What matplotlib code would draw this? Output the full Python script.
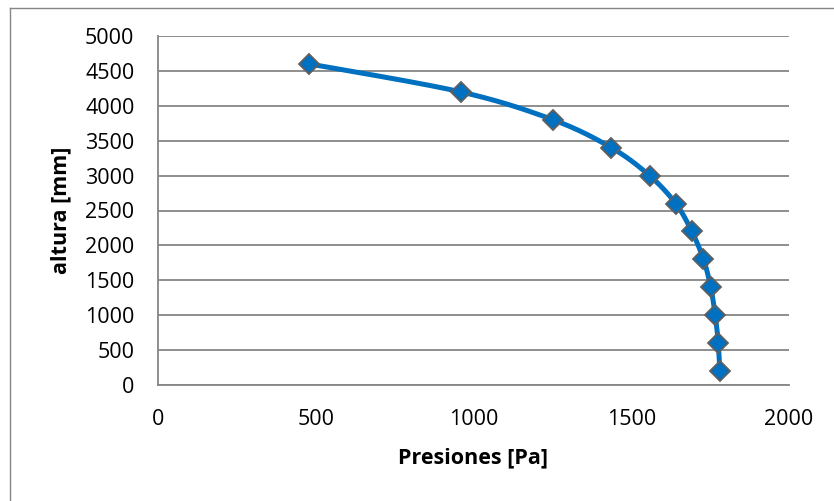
import numpy as np
import matplotlib
matplotlib.use("Agg")
import matplotlib.pyplot as plt
from matplotlib.lines import Line2D

# Data
presiones = [1781, 1776, 1766, 1752, 1729, 1692, 1641, 1558, 1437, 1252, 959, 479]
altura = [200, 600, 1000, 1400, 1800, 2200, 2600, 3000, 3400, 3800, 4200, 4600]
xticks = [0, 500, 1000, 1500, 2000]
yticks = [0, 500, 1000, 1500, 2000, 2500, 3000, 3500, 4000, 4500, 5000]
xlabel = "Presiones [Pa]"
ylabel = "altura [mm]"

plt.rcParams['font.family'] = ['Open Sans', 'DejaVu Sans']

def catmull_rom(xs, ys, n=30, tension=0.5):
    # Excel-like smoothing via cardinal spline through the data points
    P = np.column_stack([xs, ys]).astype(float)
    P = np.vstack([P[0], P, P[-1]])
    out = []
    for i in range(1, len(P) - 2):
        p0, p1, p2, p3 = P[i - 1], P[i], P[i + 1], P[i + 2]
        m1 = tension * (p2 - p0)
        m2 = tension * (p3 - p1)
        t = np.linspace(0, 1, n)[:, None]
        h00 = 2 * t**3 - 3 * t**2 + 1
        h10 = t**3 - 2 * t**2 + t
        h01 = -2 * t**3 + 3 * t**2
        h11 = t**3 - t**2
        seg = h00 * p1 + h10 * m1 + h01 * p2 + h11 * m2
        out.append(seg if i == 1 else seg[1:])
    S = np.vstack(out)
    return S[:, 0], S[:, 1]

W, H = 834, 501
fig = plt.figure(figsize=(W / 100, H / 100), dpi=100)
fig.patch.set_facecolor('white')
# outer chart border (only top and left edges fall inside the image)
fig.add_artist(Line2D([9.5 / W, 9.5 / W], [0, 1 - 7.5 / H], transform=fig.transFigure,
                      color='#868686', linewidth=1.0))
fig.add_artist(Line2D([9.5 / W, 1], [1 - 7.5 / H, 1 - 7.5 / H], transform=fig.transFigure,
                      color='#868686', linewidth=1.0))

ax = fig.add_axes([158 / W, 1 - 385 / H, (789 - 158) / W, (385 - 36) / H])
ax.set_xlim(0, 2000)
ax.set_ylim(0, 5000)
ax.set_xticks(xticks)
ax.set_yticks(yticks)
ax.set_xticklabels([str(v) for v in xticks], fontsize=15.5)
ax.set_yticklabels([str(v) for v in yticks], fontsize=15.5)
ax.tick_params(length=0)
ax.tick_params(axis='x', pad=17)
ax.tick_params(axis='y', pad=17)
ax.yaxis.grid(True, color='#868686', linewidth=1.3)
ax.set_axisbelow(True)
for s in ['top', 'right']:
    ax.spines[s].set_visible(False)
for s in ['left', 'bottom']:
    ax.spines[s].set_color('#868686')
    ax.spines[s].set_linewidth(1.3)

sx, sy = catmull_rom(presiones, altura)
ax.plot(sx, sy, color='#0070C0', linewidth=3.6, solid_capstyle='round', zorder=3, clip_on=False)
ax.plot(presiones, altura, linestyle='none', marker='D', markersize=10.5,
        markerfacecolor='#0070C0', markeredgecolor='#5f5f5f', markeredgewidth=1.3,
        zorder=4, clip_on=False)

ax.set_xlabel(xlabel, fontsize=15.5, fontweight='bold', labelpad=13)
ax.set_ylabel(ylabel, fontsize=15.5, fontweight='bold', labelpad=10)

fig.savefig('out.png', dpi=100, facecolor='white')
